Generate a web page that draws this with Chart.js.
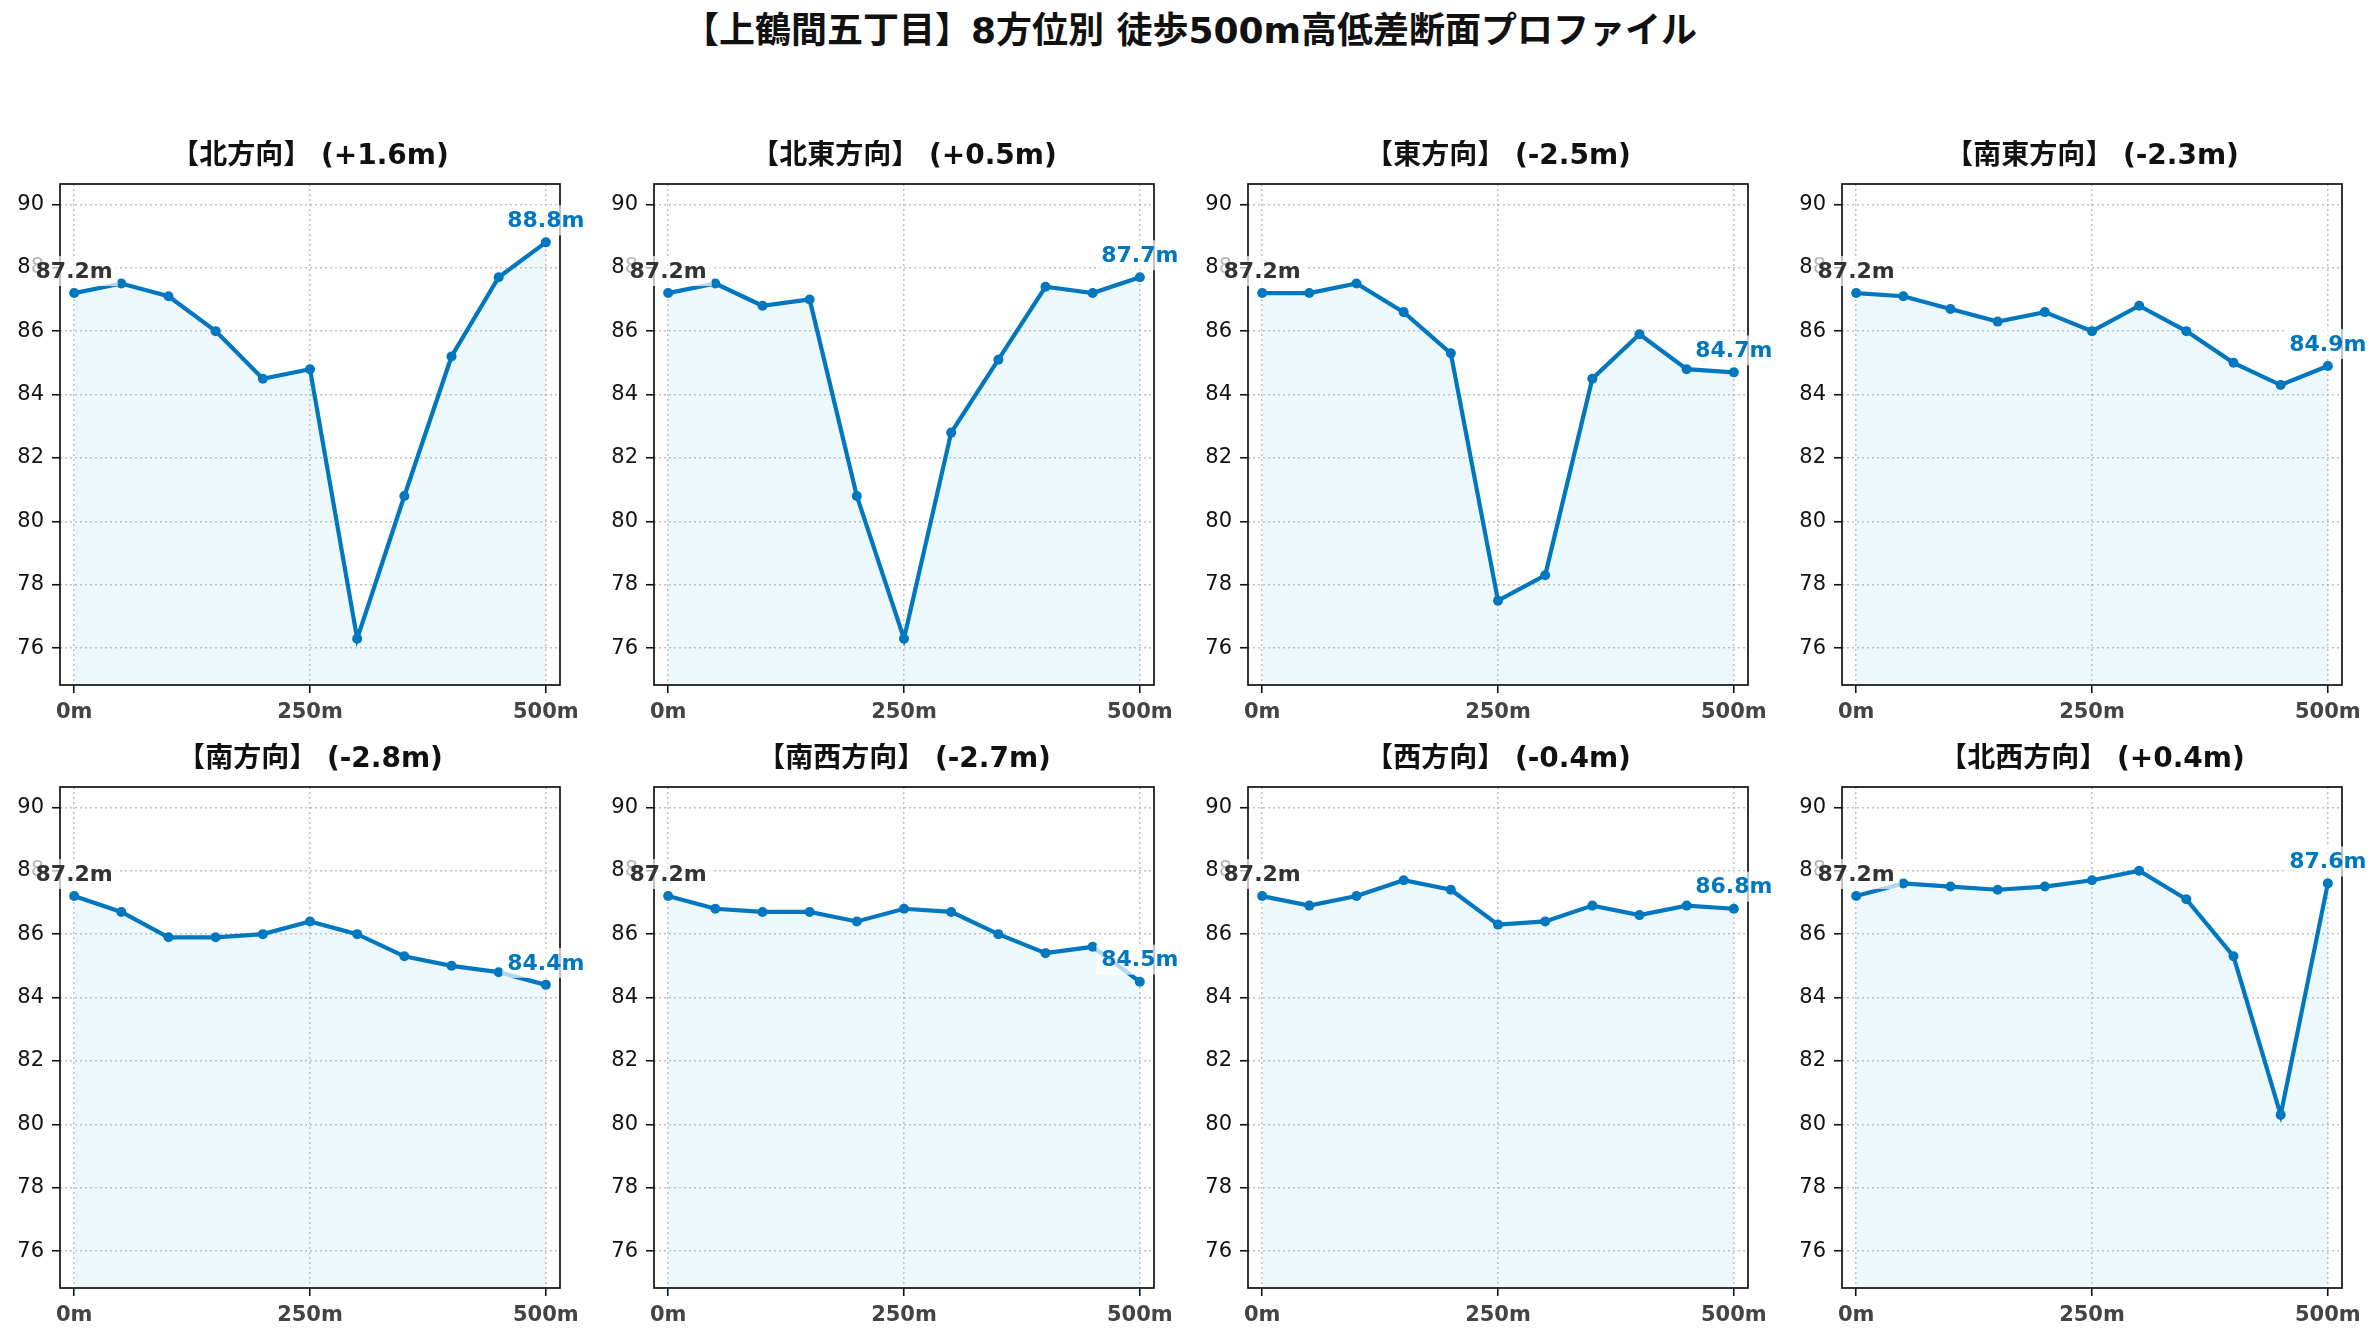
<!DOCTYPE html>
<html lang="ja">
<head>
<meta charset="utf-8">
<title>上鶴間五丁目 8方位別 高低差断面プロファイル</title>
<script src="https://cdn.jsdelivr.net/npm/chart.js@4.4.1/dist/chart.umd.min.js"></script>
<style>
    html, body {
        margin: 0;
        padding: 0;
        background: #ffffff;
        width: 2380px;
        height: 1340px;
        overflow: hidden;
    }
    #mainTitle {
        position: absolute;
        left: 0;
        top: 11px;
        width: 2380px;
        text-align: center;
        font-family: "DejaVu Sans", "Noto Sans CJK JP", sans-serif;
        font-weight: bold;
        font-size: 36px;
        line-height: 40px;
        color: #111111;
    }
    .panel {
        position: absolute;
    }
</style>
</head>
<body>
<div id="mainTitle"></div>
<div id="panels"></div>

<script>
/* ========================================
   Data
   ======================================== */

const mainTitle = '【上鶴間五丁目】8方位別 徒歩500m高低差断面プロファイル';

// distance from the start point, metres
const distances = [0, 50, 100, 150, 200, 250, 300, 350, 400, 450, 500];

const directionNames = ['北', '北東', '東', '南東', '南', '南西', '西', '北西'];

// elevation along each direction, metres
const elevNorth     = [87.2, 87.5, 87.1, 86.0, 84.5, 84.8, 76.3, 80.8, 85.2, 87.7, 88.8];
const elevNorthEast = [87.2, 87.5, 86.8, 87.0, 80.8, 76.3, 82.8, 85.1, 87.4, 87.2, 87.7];
const elevEast      = [87.2, 87.2, 87.5, 86.6, 85.3, 77.5, 78.3, 84.5, 85.9, 84.8, 84.7];
const elevSouthEast = [87.2, 87.1, 86.7, 86.3, 86.6, 86.0, 86.8, 86.0, 85.0, 84.3, 84.9];
const elevSouth     = [87.2, 86.7, 85.9, 85.9, 86.0, 86.4, 86.0, 85.3, 85.0, 84.8, 84.4];
const elevSouthWest = [87.2, 86.8, 86.7, 86.7, 86.4, 86.8, 86.7, 86.0, 85.4, 85.6, 84.5];
const elevWest      = [87.2, 86.9, 87.2, 87.7, 87.4, 86.3, 86.4, 86.9, 86.6, 86.9, 86.8];
const elevNorthWest = [87.2, 87.6, 87.5, 87.4, 87.5, 87.7, 88.0, 87.1, 85.3, 80.3, 87.6];

const elevations = [
    elevNorth, elevNorthEast, elevEast, elevSouthEast,
    elevSouth, elevSouthWest, elevWest, elevNorthWest
];

const xTicks = [0, 250, 500];
const yTicks = [76, 78, 80, 82, 84, 86, 88, 90];

/* ========================================
   Layout / style
   ======================================== */

const FONT = '"DejaVu Sans", "Noto Sans CJK JP", sans-serif';
const LINE_COLOR = '#0077BE';
const FILL_COLOR = 'rgba(135, 206, 235, 0.15)';

const colLefts = [60, 654, 1248, 1842];   // left edge of each plot area
const rowTops = [184, 787];               // top edge of each plot area
const AREA_W = 500;
const AREA_H = 501;
const Y_AXIS_W = 60;
const X_AXIS_H = 50;
const TITLE_H = 44;
const PAD_RIGHT = 38;

const X_MIN = -15, X_MAX = 515;
const Y_MIN = 74.84, Y_MAX = 90.64;

function formatDiff(values) {
    const d = values[values.length - 1] - values[0];
    const s = d.toFixed(1);
    return (d >= 0 ? '+' : '') + s + 'm';
}

/**
 * Frame around the plot area plus start / end value labels
 */
const profileDecor = {
    id: 'profileDecor',
    afterDraw(chart) {
        const ctx = chart.ctx;
        const area = chart.chartArea;

        ctx.save();
        ctx.strokeStyle = '#111111';
        ctx.lineWidth = 1.7;
        ctx.setLineDash([]);
        ctx.strokeRect(area.left, area.top, area.right - area.left, area.bottom - area.top);

        const meta = chart.getDatasetMeta(0);
        const values = chart.data.datasets[0].data;
        const first = meta.data[0];
        const last = meta.data[meta.data.length - 1];

        drawValueLabel(ctx, first.x, first.y - 22, values[0].y.toFixed(1) + 'm', '#333333');
        drawValueLabel(ctx, last.x, last.y - 22, values[values.length - 1].y.toFixed(1) + 'm', LINE_COLOR);
        ctx.restore();
    }
};

function drawValueLabel(ctx, x, y, text, color) {
    ctx.font = 'bold 22px ' + FONT;
    const w = ctx.measureText(text).width;
    ctx.fillStyle = 'rgba(255, 255, 255, 0.7)';
    ctx.fillRect(x - w / 2 - 5, y - 15, w + 10, 30);
    ctx.fillStyle = color;
    ctx.textAlign = 'center';
    ctx.textBaseline = 'middle';
    ctx.fillText(text, x, y + 1);
}

/* ========================================
   Build the 8 panels
   ======================================== */

document.getElementById('mainTitle').textContent = mainTitle;

const holder = document.getElementById('panels');

directionNames.forEach((name, i) => {
    const col = i % 4;
    const row = Math.floor(i / 4);
    const values = elevations[i];

    const w = Y_AXIS_W + AREA_W + PAD_RIGHT;
    const h = TITLE_H + AREA_H + X_AXIS_H;

    const div = document.createElement('div');
    div.className = 'panel';
    div.style.left = (colLefts[col] - Y_AXIS_W) + 'px';
    div.style.top = (rowTops[row] - TITLE_H) + 'px';
    div.style.width = w + 'px';
    div.style.height = h + 'px';

    const canvas = document.createElement('canvas');
    canvas.width = w;
    canvas.height = h;
    canvas.style.width = w + 'px';
    canvas.style.height = h + 'px';
    div.appendChild(canvas);
    holder.appendChild(div);

    new Chart(canvas, {
        type: 'line',
        data: {
            datasets: [{
                label: name + '方向',
                data: distances.map((d, k) => ({ x: d, y: values[k] })),
                borderColor: LINE_COLOR,
                backgroundColor: FILL_COLOR,
                borderWidth: 4.2,
                pointBackgroundColor: LINE_COLOR,
                pointBorderColor: LINE_COLOR,
                pointBorderWidth: 0,
                pointRadius: 5,
                fill: 'start',
                tension: 0
            }]
        },
        options: {
            responsive: false,
            animation: false,
            devicePixelRatio: 1,
            layout: {
                padding: { left: 0, right: PAD_RIGHT, top: 0, bottom: 0 }
            },
            plugins: {
                legend: { display: false },
                tooltip: { enabled: false },
                title: {
                    display: true,
                    fullSize: false,
                    text: '【' + name + '方向】 (' + formatDiff(values) + ')',
                    color: '#111111',
                    font: { family: FONT, size: 28, weight: 'bold', lineHeight: 1 },
                    padding: { top: 3, bottom: 13 }
                }
            },
            scales: {
                x: {
                    type: 'linear',
                    min: X_MIN,
                    max: X_MAX,
                    afterBuildTicks: (scale) => {
                        scale.ticks = xTicks.map(v => ({ value: v }));
                    },
                    afterFit: (scale) => {
                        scale.height = X_AXIS_H;
                    },
                    ticks: {
                        color: '#444444',
                        font: { family: FONT, size: 21, weight: 'bold' },
                        padding: 7,
                        maxRotation: 0,
                        autoSkip: false,
                        callback: (v) => v + 'm'
                    },
                    grid: {
                        color: 'rgba(150, 150, 150, 0.6)',
                        lineWidth: 1.5,
                        tickColor: '#111111',
                        tickWidth: 1.6,
                        tickLength: 8,
                        tickBorderDash: []
                    },
                    border: { display: false, dash: [2, 3] }
                },
                y: {
                    min: Y_MIN,
                    max: Y_MAX,
                    afterBuildTicks: (scale) => {
                        scale.ticks = yTicks.map(v => ({ value: v }));
                    },
                    afterFit: (scale) => {
                        scale.width = Y_AXIS_W;
                    },
                    ticks: {
                        color: '#111111',
                        font: { family: FONT, size: 21 },
                        padding: 8
                    },
                    grid: {
                        color: 'rgba(150, 150, 150, 0.6)',
                        lineWidth: 1.5,
                        tickColor: '#111111',
                        tickWidth: 1.6,
                        tickLength: 8,
                        tickBorderDash: []
                    },
                    border: { display: false, dash: [2, 3] }
                }
            }
        },
        plugins: [profileDecor]
    });
});
</script>
</body>
</html>
